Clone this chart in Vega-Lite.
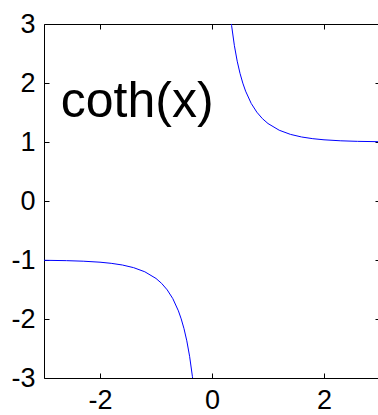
{
  "$schema": "https://vega.github.io/schema/vega-lite/v6.json",
  "width": 336,
  "height": 354,
  "autosize": {"type": "none"},
  "padding": {"left": 44, "top": 24, "right": 0, "bottom": 37},
  "background": "white",
  "config": {
    "view": {"stroke": null},
    "axis": {"grid": false, "domainColor": "black", "tickColor": "black", "labelColor": "black", "labelFont": "Liberation Sans", "labelFontSize": 27, "tickSize": -5, "domainWidth": 1, "tickWidth": 1, "labelExpr": "'' + datum.value"}
  },
  "datasets": {
    "curve": [
      {"x": 0.33, "y": 3.1395, "branch": "pos"},
      {"x": 0.35, "y": 2.9729, "branch": "pos"},
      {"x": 0.4, "y": 2.6319, "branch": "pos"},
      {"x": 0.45, "y": 2.3702, "branch": "pos"},
      {"x": 0.5, "y": 2.164, "branch": "pos"},
      {"x": 0.55, "y": 1.9979, "branch": "pos"},
      {"x": 0.6, "y": 1.862, "branch": "pos"},
      {"x": 0.7, "y": 1.6546, "branch": "pos"},
      {"x": 0.8, "y": 1.5059, "branch": "pos"},
      {"x": 0.9, "y": 1.3961, "branch": "pos"},
      {"x": 1.0, "y": 1.313, "branch": "pos"},
      {"x": 1.2, "y": 1.1995, "branch": "pos"},
      {"x": 1.4, "y": 1.1295, "branch": "pos"},
      {"x": 1.6, "y": 1.085, "branch": "pos"},
      {"x": 1.8, "y": 1.0562, "branch": "pos"},
      {"x": 2.0, "y": 1.0373, "branch": "pos"},
      {"x": 2.3, "y": 1.0203, "branch": "pos"},
      {"x": 2.6, "y": 1.0111, "branch": "pos"},
      {"x": 3.0, "y": 1.005, "branch": "pos"},
      {"x": -3.0, "y": -1.005, "branch": "neg"},
      {"x": -2.6, "y": -1.0111, "branch": "neg"},
      {"x": -2.3, "y": -1.0203, "branch": "neg"},
      {"x": -2.0, "y": -1.0373, "branch": "neg"},
      {"x": -1.8, "y": -1.0562, "branch": "neg"},
      {"x": -1.6, "y": -1.085, "branch": "neg"},
      {"x": -1.4, "y": -1.1295, "branch": "neg"},
      {"x": -1.2, "y": -1.1995, "branch": "neg"},
      {"x": -1.0, "y": -1.313, "branch": "neg"},
      {"x": -0.9, "y": -1.3961, "branch": "neg"},
      {"x": -0.8, "y": -1.5059, "branch": "neg"},
      {"x": -0.7, "y": -1.6546, "branch": "neg"},
      {"x": -0.6, "y": -1.862, "branch": "neg"},
      {"x": -0.55, "y": -1.9979, "branch": "neg"},
      {"x": -0.5, "y": -2.164, "branch": "neg"},
      {"x": -0.45, "y": -2.3702, "branch": "neg"},
      {"x": -0.4, "y": -2.6319, "branch": "neg"},
      {"x": -0.35, "y": -2.9729, "branch": "neg"},
      {"x": -0.33, "y": -3.1395, "branch": "neg"}
    ],
    "label": [{"x": -2.7, "y": 1.43, "text": "coth(x)"}]
  },
  "layer": [
    {
      "data": {"name": "curve"},
      "mark": {"type": "line", "color": "#0000ff", "strokeWidth": 1, "clip": true},
      "encoding": {
        "x": {"field": "x", "type": "quantitative", "scale": {"domain": [-3, 3], "nice": false, "zero": false}, "axis": {"values": [-2, 0, 2], "title": null, "labelPadding": 14, "orient": "bottom"}},
        "y": {"field": "y", "type": "quantitative", "scale": {"domain": [-3, 3], "nice": false, "zero": false}, "axis": {"values": [-3, -2, -1, 0, 1, 2, 3], "title": null, "labelPadding": 14, "orient": "left"}},
        "detail": {"field": "branch"}
      }
    },
    {
      "data": {"name": "label"},
      "mark": {"type": "text", "align": "left", "baseline": "alphabetic", "font": "Liberation Sans", "fontSize": 50, "color": "black"},
      "encoding": {
        "x": {"field": "x", "type": "quantitative", "axis": {"orient": "top", "values": [-2, 0, 2], "labels": false, "title": null}},
        "y": {"field": "y", "type": "quantitative", "axis": {"orient": "right", "values": [-3, -2, -1, 0, 1, 2, 3], "labels": false, "title": null}},
        "text": {"field": "text"}
      }
    }
  ],
  "resolve": {"axis": {"x": "independent", "y": "independent"}}
}
